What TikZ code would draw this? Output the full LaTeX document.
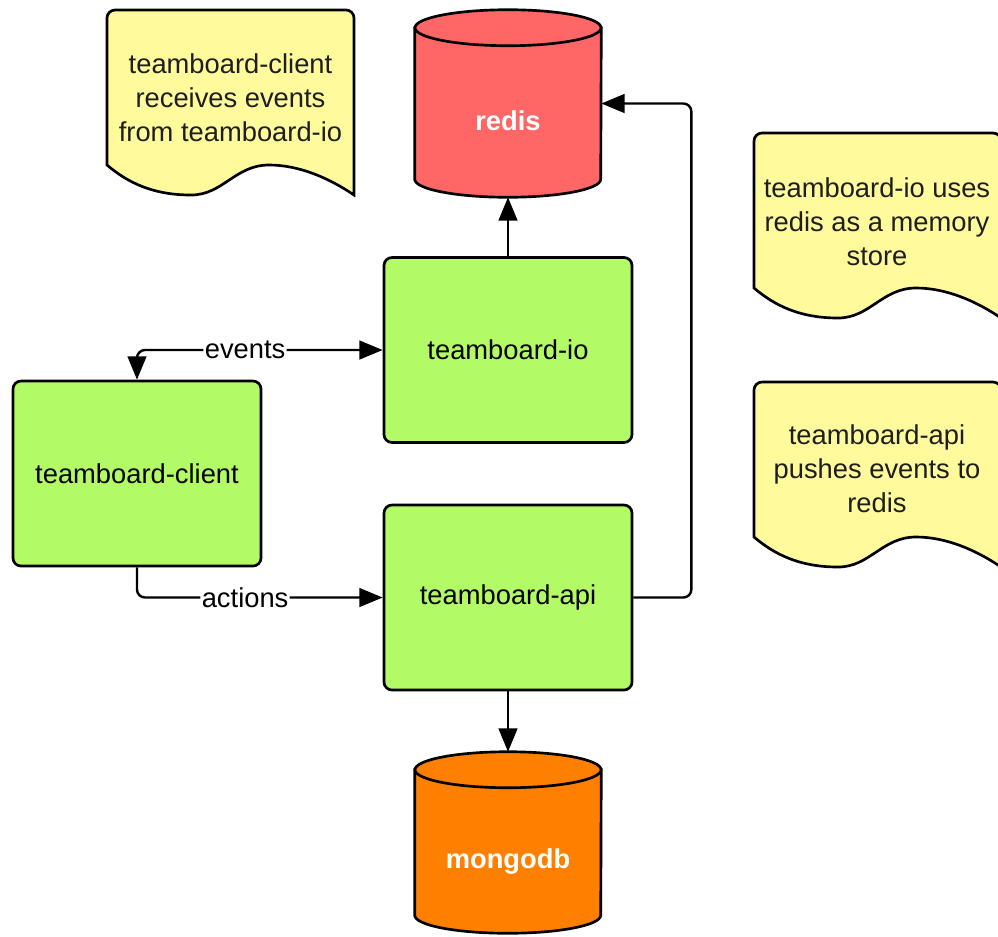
\documentclass[tikz,border=0pt]{standalone}
\usepackage{fontspec}
\setmainfont{Liberation Sans}
\usetikzlibrary{arrows.meta,calc}
\definecolor{boxgreen}{RGB}{178,250,102}
\definecolor{redisred}{RGB}{255,102,102}
\definecolor{mongoorange}{RGB}{255,128,0}
\definecolor{noteyellow}{RGB}{255,250,155}
\definecolor{inktext}{RGB}{30,30,30}
\tikzset{
 service/.style={draw,fill=boxgreen,rounded corners=6pt,line width=2pt,
   minimum width=186pt,minimum height=138.75pt},
 flow/.style={-{Triangle[length=17.5pt,width=14pt]},line width=1.8pt,rounded corners=6pt},
 twoway/.style={{Triangle[length=17.5pt,width=14pt]}-{Triangle[length=17.5pt,width=14pt]},
   line width=1.8pt,rounded corners=6pt},
 tag/.style={fill=white,inner sep=1pt},
 dbshape/.style={draw,line width=2pt},
 dbtext/.style={text=white,font=\fontsize{20.5}{25.5}\selectfont\bfseries},
 memo/.style={draw,fill=noteyellow,line width=2pt},
 memotext/.style={align=center,text=inktext},
 every node/.style={font=\fontsize{20.5}{25.5}\selectfont}}

\begin{document}
\begin{tikzpicture}[x=0.75pt,y=-0.75pt]
\clip (0,0) rectangle (998,936);
\fill[white] (0,0) rectangle (998,936);
% sticky notes
\foreach \nx/\ny in {107/10,754/133,754/382}
  \draw[memo] (\nx,\ny+155) [rounded corners=6pt] -- (\nx,\ny) -- (\nx+247,\ny)
    [sharp corners] -- (\nx+247,\ny+185)
    .. controls (\nx+222,\ny+168) and (\nx+192,\ny+155) .. (\nx+162,\ny+155)
    .. controls (\nx+128,\ny+155) and (\nx+116,\ny+185) .. (\nx+84,\ny+185)
    .. controls (\nx+45,\ny+185) and (\nx+20,\ny+172) .. (\nx,\ny+155) -- cycle;
\node[memotext] (memo-client) at (230.5,98) {teamboard-client\\receives events\\from teamboard-io};
\node[memotext] (memo-io) at (877,222) {teamboard-io uses\\redis as a memory\\store};
\node[memotext] (memo-api) at (877,469) {teamboard-api\\pushes events to\\redis};
% services
\node[service] (io) at (508,350) {teamboard-io};
\node[service] (client) at (137,473.5) {teamboard-client};
\node[service] (api) at (508,597.5) {teamboard-api};
% data stores
\node[minimum width=139.5pt,minimum height=140.25pt,inner sep=0pt] (redis) at (508,103.5) {};
\node[minimum width=139.5pt,minimum height=135.75pt,inner sep=0pt] (mongo) at (508,842.5) {};
\foreach \db/\col in {redis/redisred,mongo/mongoorange}{
  \draw[dbshape,fill=\col] ($(\db.north west)+(0,18)$) -- ($(\db.south west)+(0,-18)$)
    arc[start angle=180,end angle=0,x radius=93,y radius=18]
    -- ($(\db.north east)+(0,18)$) -- cycle;
  \draw[dbshape,fill=\col] ($(\db.north)+(0,18)$) ellipse[x radius=93,y radius=18];
}
\node[dbtext] (redis-label) at ($(redis.center)+(0,17.5)$) {redis};
\node[dbtext] (mongo-label) at ($(mongo.center)+(0,19)$) {mongodb};
% connectors
\draw[flow] (io.north) -- (redis.south);
\draw[flow] (api.east) -- ++(58,0) |- (redis.east);
\draw[flow] (api.south) -- (mongo.north);
\draw[twoway] (client.north) |- node[tag,pos=0.72] (events) {events} (io.west);
\draw[flow] (client.south) |- node[tag,pos=0.72] (actions) {actions} (api.west);
\end{tikzpicture}
\end{document}
